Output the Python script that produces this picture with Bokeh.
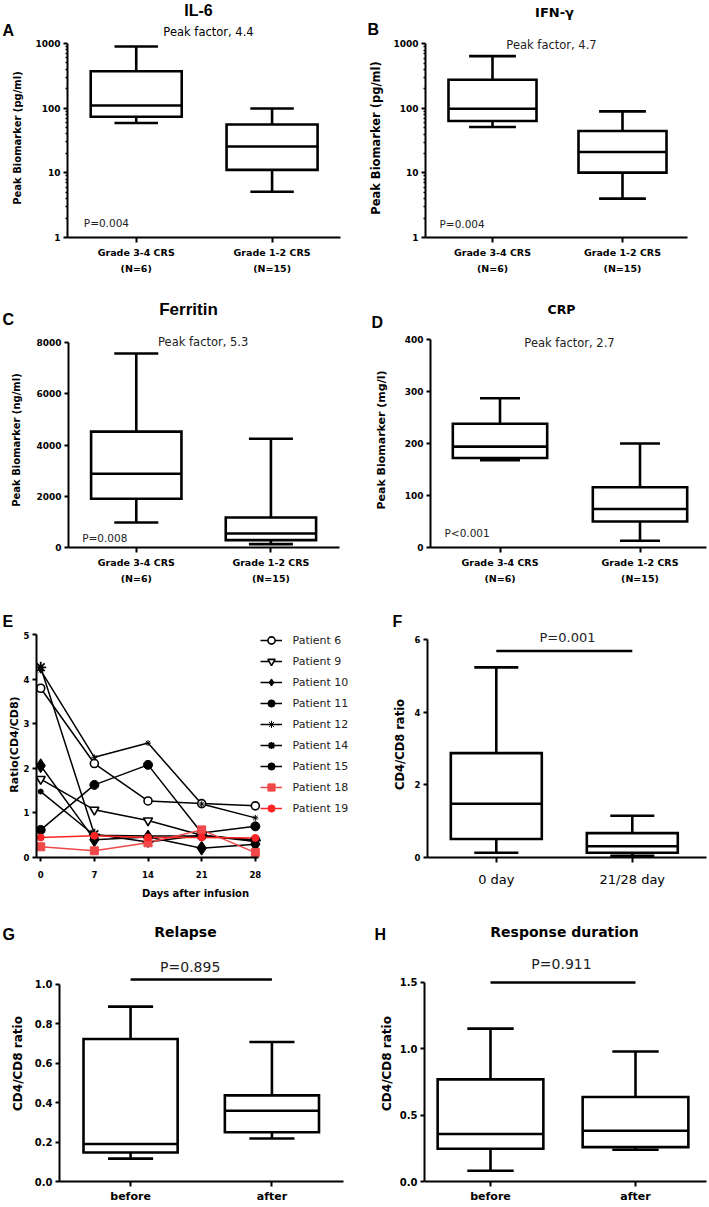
import math
from bokeh.plotting import figure
from bokeh.layouts import row, column
from bokeh.models import (Range1d, FixedTicker, Label, Legend, LegendItem,
                          NumeralTickFormatter)
from bokeh.embed import file_html
from bokeh.resources import INLINE

# ---------------------------------------------------------------- data
crs_groups = ["Grade 3-4 CRS\n(N=6)", "Grade 1-2 CRS\n(N=15)"]
# five-number summaries: [min, q1, median, q3, max]
il6_g34 = [59, 73.5, 110, 373, 899]
il6_g12 = [5.1, 11.1, 25.5, 55.9, 98.8]
ifng_g34 = [51.4, 63.7, 98.8, 277, 645]
ifng_g12 = [4.0, 10.1, 21.1, 44.6, 89.9]
ferritin_g34 = [979, 1906, 2885, 4530, 7580]
ferritin_g12 = [130, 287, 548, 1175, 4250]
crp_g34 = [168, 172, 194, 238, 287]
crp_g12 = [13, 50, 74, 116, 200]
peak_factors = ["Peak factor, 4.4", "Peak factor, 4.7", "Peak factor, 5.3", "Peak factor, 2.7"]
p_values_crs = ["P=0.004", "P=0.004", "P=0.008", "P<0.001"]

days = [0, 7, 14, 21, 28]
patients = ["Patient 6", "Patient 9", "Patient 10", "Patient 11", "Patient 12",
            "Patient 14", "Patient 15", "Patient 18", "Patient 19"]
ratio_p6 = [3.80, 2.11, 1.27, 1.21, 1.16]
ratio_p9 = [1.76, 1.07, 0.83, 0.50, 0.36]
ratio_p10 = [2.06, 0.40, 0.46, 0.21, 0.30]
ratio_p11 = [1.48, 0.50, 0.48, 0.48, 0.40]
ratio_p12 = [4.20, 2.25, 2.57, 1.20, 0.89]
ratio_p14 = [4.27, 0.52, 0.35, 0.50, 0.38]
ratio_p15 = [0.62, 1.63, 2.08, 0.55, 0.70]
ratio_p18 = [0.24, 0.15, 0.33, 0.62, 0.11]
ratio_p19 = [0.45, 0.49, 0.45, 0.45, 0.44]

f_groups = ["0 day", "21/28 day"]
f_day0 = [0.13, 0.51, 1.48, 2.87, 5.23]
f_day2128 = [0.05, 0.13, 0.31, 0.67, 1.15]
f_p = "P=0.001"
f_bar = 5.68

bh_groups = ["before", "after"]
relapse_before = [0.116, 0.147, 0.19, 0.723, 0.887]
relapse_after = [0.218, 0.25, 0.359, 0.437, 0.708]
relapse_p = "P=0.895"
relapse_bar = 1.025
resp_before = [0.081, 0.247, 0.358, 0.77, 1.152]
resp_after = [0.239, 0.259, 0.382, 0.637, 0.98]
resp_p = "P=0.911"
resp_bar = 1.5

log_ticks = [1, 10, 100, 1000]
ferritin_ticks = [0, 2000, 4000, 6000, 8000]
crp_ticks = [0, 100, 200, 300, 400]
e_yticks = [0, 1, 2, 3, 4, 5]
f_ticks = [0, 2, 4, 6]
g_ticks = [0.0, 0.2, 0.4, 0.6, 0.8, 1.0]
h_ticks = [0.0, 0.5, 1.0, 1.5]

# ---------------------------------------------------------------- layout
W = 708
COLS = [(0, 354), (354, 354)]                      # (left, width)
ROWS = [(0, 38, 262), (300, 32, 268), (600, 31, 291), (922, 23, 260)]  # (top, strip h, main h)
SANS = "DejaVu Sans"
ARIAL = "Liberation Sans"


def span_range(v_a, p_a, v_b, p_b, p_start, p_end):
    """Range whose ends fall on pixels p_start/p_end given two calibration pairs."""
    k = (v_b - v_a) / (p_b - p_a)
    return (v_a + (p_start - p_a) * k, v_a + (p_end - p_a) * k)


def make_strip(rw):
    top, sh, _ = ROWS[rw]
    p = figure(width=W, height=sh, x_range=Range1d(0, W), y_range=Range1d(top + sh, top),
               x_axis_location=None, y_axis_location=None, title=None,
               output_backend="svg", toolbar_location=None, tools="",
               min_border_left=0, min_border_right=0, min_border_top=0, min_border_bottom=0)
    p.outline_line_color = None
    p.background_fill_color = "white"
    p.border_fill_color = "white"
    p.xgrid.visible = False
    p.ygrid.visible = False
    return p


def stext(p, x, y, text, size, bold=True, font=SANS, align="center"):
    p.add_layout(Label(x=x, y=y, text=text, text_font=font, text_font_size=f"{size}px",
                       text_font_style="bold" if bold else "normal",
                       text_align=align, text_baseline="middle", text_color="black"))


def make_main(col, rw, fl, fr, fb, xcal, ycal, y_log=False):
    cx, cw = COLS[col]
    rt, sh, mh = ROWS[rw]
    ft = rt + sh
    xr = span_range(*xcal, fl, fr)
    if y_log:
        (va, pa, vb, pb) = ycal
        lr = span_range(math.log10(va), pa, math.log10(vb), pb, fb, ft)
        yr = (10 ** lr[0], 10 ** lr[1])
    else:
        yr = span_range(*ycal, fb, ft)
    p = figure(width=cw, height=mh, x_range=Range1d(*xr), y_range=Range1d(*yr),
               y_axis_type="log" if y_log else "linear", title=None,
               output_backend="svg", toolbar_location=None, tools="",
               min_border_left=int(round(fl - cx)), min_border_right=int(round(cx + cw - fr)),
               min_border_top=0, min_border_bottom=int(round(ft + mh - fb)))
    p.outline_line_color = None
    p.xgrid.visible = False
    p.ygrid.visible = False
    p.background_fill_color = "white"
    p.border_fill_color = "white"
    return p, (fl, ft, fr, fb)


def txt(p, frame, px, py, text, size, bold=False, align="center", color="#222"):
    fl, ft, fr, fb = frame
    p.add_layout(Label(x=px - fl, y=fb - py, x_units="screen", y_units="screen",
                       text=text, text_font=SANS, text_font_size=f"{size}px",
                       text_font_style="bold" if bold else "normal",
                       text_align=align, text_baseline="middle", text_color=color))


def style_axis(ax, size, bold=True, standoff=3, tick_out=4):
    ax.axis_line_width = 2
    ax.axis_line_color = "black"
    ax.major_tick_line_width = 2
    ax.major_tick_line_color = "black"
    ax.major_tick_in = 0
    ax.major_tick_out = tick_out
    ax.minor_tick_line_width = 1.5
    ax.minor_tick_in = 0
    ax.minor_tick_out = 2
    ax.major_label_text_font = SANS
    ax.major_label_text_font_size = f"{size}px"
    ax.major_label_text_font_style = "bold" if bold else "normal"
    ax.major_label_text_color = "black"
    ax.major_label_standoff = standoff


def axis_title(ax, text, size, standoff):
    ax.axis_label = text
    ax.axis_label_text_font = SANS
    ax.axis_label_text_font_size = f"{size}px"
    ax.axis_label_text_font_style = "bold"
    ax.axis_label_text_color = "black"
    ax.axis_label_standoff = standoff


def set_y(p, ticks, size, fmt="0", log_minor=False):
    ax = p.yaxis[0]
    if log_minor:
        minors = [m * 10 ** k for k in range(3) for m in range(2, 10)]
        ax.ticker = FixedTicker(ticks=ticks, minor_ticks=minors)
    else:
        ax.ticker = FixedTicker(ticks=ticks)
        ax.minor_tick_line_color = None
    ax.formatter = NumeralTickFormatter(format=fmt)
    ax.bounds = (ticks[0], ticks[-1])
    style_axis(ax, size, True, 3)


def set_cat_x(p, names, size, bold=True, standoff=4, line_height=1.5):
    ax = p.xaxis[0]
    ax.ticker = FixedTicker(ticks=[i + 1 for i in range(len(names))])
    ax.major_label_overrides = {i + 1: n for i, n in enumerate(names)}
    style_axis(ax, size, bold, standoff, tick_out=5)
    ax.major_label_text_line_height = line_height
    ax.minor_tick_line_color = None


def draw_boxes(p, stats, box_w, cap_w, lw=2.6):
    xs = [i + 1 for i in range(len(stats))]
    mn = [s[0] for s in stats]
    q1 = [s[1] for s in stats]
    md = [s[2] for s in stats]
    q3 = [s[3] for s in stats]
    mx = [s[4] for s in stats]
    kw = dict(line_color="black", line_width=lw)
    p.segment(x0=xs, y0=q3, x1=xs, y1=mx, **kw)
    p.segment(x0=xs, y0=mn, x1=xs, y1=q1, **kw)
    p.segment(x0=[x - cap_w / 2 for x in xs], y0=mx, x1=[x + cap_w / 2 for x in xs], y1=mx, **kw)
    p.segment(x0=[x - cap_w / 2 for x in xs], y0=mn, x1=[x + cap_w / 2 for x in xs], y1=mn, **kw)
    p.vbar(x=xs, bottom=q1, top=q3, width=box_w, fill_color="white", line_join="miter", **kw)
    p.segment(x0=[x - box_w / 2 for x in xs], y0=md, x1=[x + box_w / 2 for x in xs], y1=md, **kw)


def sig_bar(p, level, lw=2.6):
    p.segment(x0=[1], y0=[level], x1=[2], y1=[level], line_color="black", line_width=lw)


# ================================================================= row 1
s1 = make_strip(0)
stext(s1, 198, 10, "IL-6", 16, font=ARIAL)
stext(s1, 2, 30, "A", 16, font=ARIAL, align="left")
stext(s1, 208, 31, peak_factors[0], 11.5, bold=False)
stext(s1, 554, 12, "IFN-\u03b3", 13)
stext(s1, 367, 29, "B", 16, font=ARIAL, align="left")

pA, fA = make_main(0, 0, 66.7, 340, 237.3, (1, 135.5, 2, 271.5), (1, 237.3, 1000, 43), y_log=True)
draw_boxes(pA, [il6_g34, il6_g12], 0.67, 0.32)
set_y(pA, log_ticks, 9, log_minor=True)
set_cat_x(pA, crs_groups, 9.5)
axis_title(pA.yaxis[0], "Peak Biomarker (pg/ml)", 10, 9)
txt(pA, fA, 83, 223, p_values_crs[0], 10.5, align="left")

pB, fB = make_main(1, 0, 425, 687, 237.3, (1, 492, 2, 622), (1, 237.3, 1000, 43.3), y_log=True)
draw_boxes(pB, [ifng_g34, ifng_g12], 0.677, 0.36)
set_y(pB, log_ticks, 9, log_minor=True)
set_cat_x(pB, crs_groups, 9.5)
axis_title(pB.yaxis[0], "Peak Biomarker (pg/ml)", 11.5, 7)
txt(pB, fB, 551, 45, peak_factors[1], 11.5)
txt(pB, fB, 439, 224, p_values_crs[1], 10.5, align="left")

# ================================================================= row 2
s2 = make_strip(1)
stext(s2, 188, 309, "Ferritin", 17, font=ARIAL)
stext(s2, 2, 319, "C", 16, font=ARIAL, align="left")
stext(s2, 561, 309, "CRP", 12.5)
stext(s2, 371, 322, "D", 16, font=ARIAL, align="left")

pC, fC = make_main(0, 1, 68.3, 339, 546.7, (1, 136, 2, 270.5), (0, 546.7, 8000, 342.3))
draw_boxes(pC, [ferritin_g34, ferritin_g12], 0.671, 0.327)
set_y(pC, ferritin_ticks, 9)
set_cat_x(pC, crs_groups, 9.5)
axis_title(pC.yaxis[0], "Peak Biomarker (ng/ml)", 10, 11)
txt(pC, fC, 203, 341, peak_factors[2], 11.5)
txt(pC, fC, 82, 537, p_values_crs[2], 10.5, align="left")

pD, fD = make_main(1, 1, 430, 706, 546.7, (1, 499.5, 2, 639.5), (0, 546.7, 400, 339))
draw_boxes(pD, [crp_g34, crp_g12], 0.674, 0.286)
set_y(pD, crp_ticks, 9)
set_cat_x(pD, crs_groups, 9.5)
axis_title(pD.yaxis[0], "Peak Biomarker (mg/l)", 11, 14)
txt(pD, fD, 569, 342, peak_factors[3], 11.5)
txt(pD, fD, 444, 532, p_values_crs[3], 10.5, align="left")

# ================================================================= row 3
s3 = make_strip(2)
stext(s3, 2, 621, "E", 16, font=ARIAL, align="left")
stext(s3, 392, 621, "F", 16, font=ARIAL, align="left")

pE, fE = make_main(0, 2, 36.5, 354, 856.7, (0, 40.7, 28, 255), (0, 856.7, 5, 634.3))
for ax in (pE.xaxis[0], pE.yaxis[0]):
    ax.minor_tick_line_color = None
pE.xaxis[0].bounds = (pE.x_range.start, 28.4)
pE.yaxis[0].bounds = (0, 5)
pE.xaxis[0].ticker = FixedTicker(ticks=days)
pE.yaxis[0].ticker = FixedTicker(ticks=e_yticks)
style_axis(pE.xaxis[0], 8.5, True, 9)
style_axis(pE.yaxis[0], 8.5, True, 3)
axis_title(pE.xaxis[0], "Days after infusion", 10, 7)
axis_title(pE.yaxis[0], "Ratio(CD4/CD8)", 11, 0)

series = [ratio_p6, ratio_p9, ratio_p10, ratio_p11, ratio_p12,
          ratio_p14, ratio_p15, ratio_p18, ratio_p19]
styles = [
    dict(marker="circle", size=8, fill_color="white", color="black", lw=1.6),
    dict(marker="inverted_triangle", size=9, fill_color="white", color="black", lw=1.6),
    dict(marker="diamond", size=14, fill_color="black", color="black", lw=1.0),
    dict(marker="circle", size=5, fill_color="black", color="black", lw=1.0),
    dict(marker="asterisk", size=6, fill_color="black", color="black", lw=1.0),
    dict(marker="asterisk", size=11, fill_color="black", color="black", lw=1.8),
    dict(marker="circle", size=9, fill_color="black", color="black", lw=1.0),
    dict(marker="square", size=8, fill_color="#f04848", color="#f04848", lw=1.0),
    dict(marker="circle", size=7, fill_color="#ff2424", color="#ff2424", lw=1.0),
]
line_rs = []
for vals, st in zip(series, styles):
    line_rs.append(pE.line(days, vals, line_color=st["color"], line_width=1.5))
items = []
for name, vals, st, lr in zip(patients, series, styles, line_rs):
    sr = pE.scatter(days, vals, marker=st["marker"], size=st["size"],
                    fill_color=st["fill_color"], line_color=st["color"],
                    line_width=st["lw"])
    items.append(LegendItem(label=name, renderers=[lr, sr]))
legend = Legend(items=items, location=(260 - 36.5, 856.7 - 631 - 186),
                border_line_color=None, background_fill_alpha=0,
                margin=0, padding=0, spacing=3,
                glyph_height=18, glyph_width=22, label_height=18, label_standoff=11,
                label_text_font=SANS, label_text_font_size="11px",
                label_text_color="#222")
pE.add_layout(legend)

pF, fF = make_main(1, 2, 427, 706, 861.7, (1, 495.8, 2, 631.8), (0, 861.7, 6, 639))
draw_boxes(pF, [f_day0, f_day2128], 0.669, 0.324)
sig_bar(pF, f_bar)
set_y(pF, f_ticks, 8.5)
set_cat_x(pF, f_groups, 13, bold=False, standoff=9)
axis_title(pF.yaxis[0], "CD4/CD8 ratio", 11.5, 5)
txt(pF, fF, 567, 641.5, f_p, 13)

# ================================================================= row 4
s4 = make_strip(3)
stext(s4, 2, 934, "G", 16, font=ARIAL, align="left")
stext(s4, 185, 931, "Relapse", 14)
stext(s4, 374, 934, "H", 16, font=ARIAL, align="left")
stext(s4, 564, 931, "Response duration", 14)

pG, fG = make_main(0, 3, 59.3, 343, 1181.7, (1, 130.3, 2, 271.5), (0, 1181.7, 1, 984))
draw_boxes(pG, [relapse_before, relapse_after], 0.666, 0.319)
sig_bar(pG, relapse_bar)
set_y(pG, g_ticks, 10, fmt="0.0")
set_cat_x(pG, bh_groups, 11, standoff=3)
axis_title(pG.yaxis[0], "CD4/CD8 ratio", 12, 7)
txt(pG, fG, 190, 967, relapse_p, 14)

pH, fH = make_main(1, 3, 424, 706, 1183, (1, 490, 2, 635), (0, 1183, 1.5, 982.3))
draw_boxes(pH, [resp_before, resp_after], 0.729, 0.32)
sig_bar(pH, resp_bar)
set_y(pH, h_ticks, 10, fmt="0.0")
set_cat_x(pH, bh_groups, 11, standoff=3)
axis_title(pH.yaxis[0], "CD4/CD8 ratio", 12, 3)
txt(pH, fH, 561, 965, resp_p, 14)

layout = column(s1, row(pA, pB), s2, row(pC, pD), s3, row(pE, pF), s4, row(pG, pH))
open("out.html", "w").write(file_html(layout, INLINE))
